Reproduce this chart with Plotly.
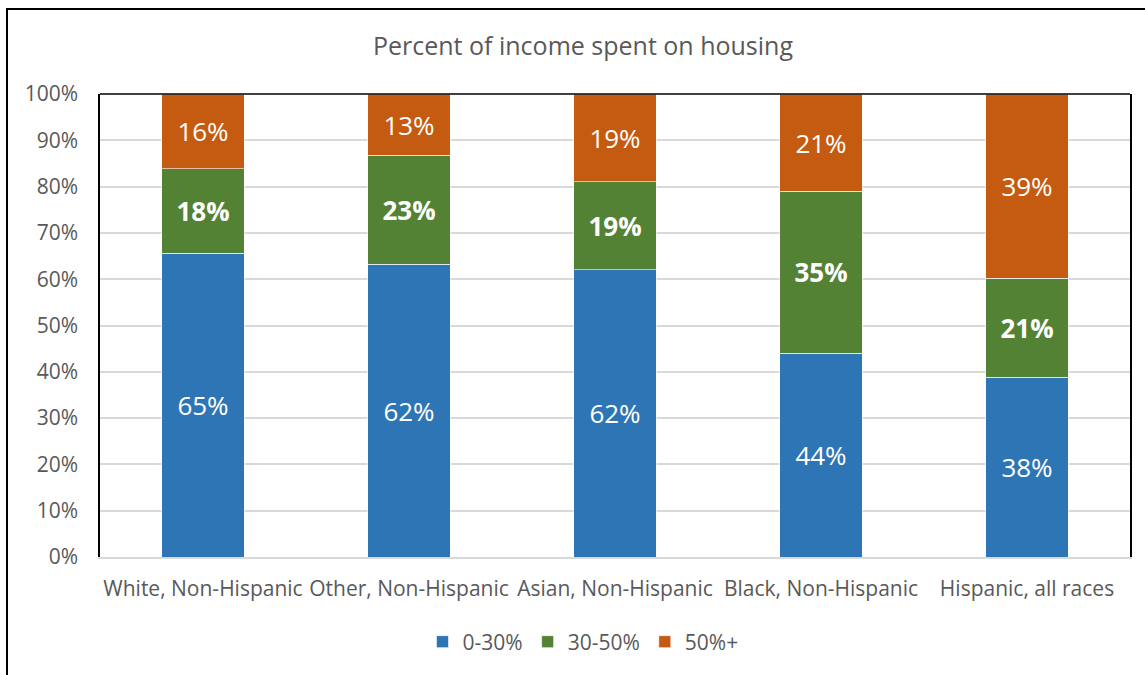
import plotly.graph_objects as go

categories = ["White, Non-Hispanic", "Other, Non-Hispanic", "Asian, Non-Hispanic",
              "Black, Non-Hispanic", "Hispanic, all races"]
share_0_30 = [65, 62, 62, 44, 38]
share_30_50 = [18, 23, 19, 35, 21]
share_50_plus = [16, 13, 19, 21, 39]
series_names = ["0-30%", "30-50%", "50%+"]
colors = ["#2E75B6", "#548235", "#C55A11"]

FONT = "Open Sans"
GREY = "#595959"

fig = go.Figure()
for name, vals, col, bold in zip(series_names, [share_0_30, share_30_50, share_50_plus], colors,
                                 [False, True, False]):
    txt = [f"<b>{v}%</b>" if bold else f"{v}%" for v in vals]
    fig.add_trace(go.Bar(
        x=categories, y=vals, name=name, marker_color=col,
        marker_line=dict(color="rgba(255,255,255,0.6)", width=1),
        text=txt, texttemplate="%{text}", textposition="inside",
        insidetextanchor="middle",
        textfont=dict(color="white", size=26, family=FONT),
        hoverinfo="skip",
    ))

W, H = 1145, 675
L, R, T = 100, 1145 - 1130, 94
B = H - 557
pw, ph = W - L - R, H - T - B

def px_x(p):
    return (p - L) / pw

def px_y(p):
    return (H - B - p) / ph

fig.update_layout(
    width=W, height=H,
    barmode="stack", barnorm="percent", bargap=0.6,
    margin=dict(l=L, r=R, t=T, b=B),
    paper_bgcolor="white", plot_bgcolor="white",
    font=dict(family=FONT, color=GREY, size=21),
    title=dict(text="Percent of income spent on housing", x=583 / W, xanchor="center",
               y=1 - 46 / H, yanchor="middle", font=dict(size=25, color=GREY, family=FONT)),
    showlegend=True,
    legend=dict(orientation="h", x=px_x(583), xanchor="center", y=px_y(642), yanchor="middle",
                font=dict(size=21, color=GREY), traceorder="normal"),
    xaxis=dict(showline=True, linecolor="#D9D9D9", linewidth=2, ticks="",
               ticklabelstandoff=12,
               tickfont=dict(size=21, color=GREY), fixedrange=True),
    yaxis=dict(range=[0, 100], dtick=10, ticksuffix="%", showgrid=True,
               gridcolor="#D9D9D9", gridwidth=1.5, showline=True, linecolor="black",
               linewidth=1.5, mirror=True, ticks="", zeroline=False,
               ticklabelstandoff=16, fixedrange=True,
               tickfont=dict(size=21, color=GREY)),
    shapes=[
        dict(type="line", xref="paper", yref="paper", x0=0, x1=1, y0=1, y1=1,
             line=dict(color="black", width=1.5)),
        dict(type="rect", xref="paper", yref="paper", x0=px_x(7), x1=px_x(1170),
             y0=px_y(700), y1=px_y(9), line=dict(color="black", width=2)),
    ],
)

fig.write_html("out.html", config={"displayModeBar": False},
               post_script="document.body.style.margin='0';")
